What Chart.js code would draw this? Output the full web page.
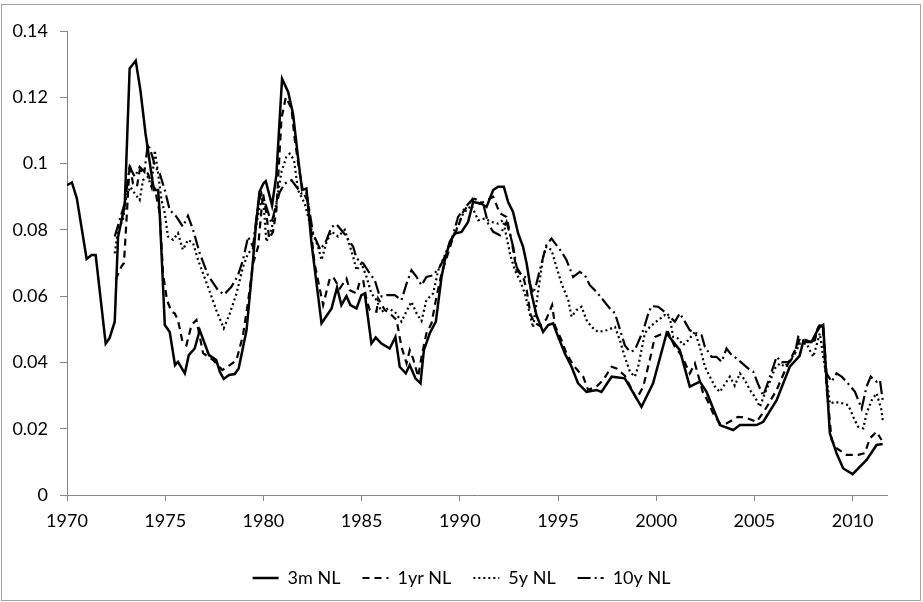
<!DOCTYPE html>
<html>
<head>
<meta charset="utf-8">
<script src="https://cdn.jsdelivr.net/npm/chart.js@4/dist/chart.umd.min.js"></script>
<style>
  html, body { margin: 0; padding: 0; background: #fff; }
  #wrap { width: 923px; height: 602px; }
</style>
</head>
<body>
<div id="wrap"><canvas id="ratesChart" width="923" height="602"></canvas></div>
<script>
// Dutch interest rates by maturity, 1970-2011 (decimal years)

const seriesNames = ["3m NL", "1yr NL", "5y NL", "10y NL"];

const years3m = [1970.00,1970.25,1970.50,1971.00,1971.25,1971.46,1971.97,1972.17,1972.43,1972.60,
  1972.94,1973.19,1973.50,1973.74,1974.00,1974.42,1974.64,1974.72,1974.98,1975.23,
  1975.50,1975.65,1976.00,1976.20,1976.50,1976.76,1977.23,1977.60,1977.78,1977.98,
  1978.25,1978.54,1978.74,1979.14,1979.40,1979.60,1979.80,1980.00,1980.12,1980.44,
  1980.66,1980.95,1981.26,1981.51,1981.76,1981.97,1982.19,1982.45,1982.96,1983.47,
  1983.75,1983.97,1984.23,1984.43,1984.74,1984.99,1985.16,1985.50,1985.72,1986.01,
  1986.43,1986.72,1986.94,1987.25,1987.45,1987.74,1988.00,1988.17,1988.47,1988.78,
  1989.07,1989.24,1989.49,1989.75,1990.09,1990.42,1990.68,1991.10,1991.36,1991.70,
  1991.95,1992.24,1992.46,1992.71,1992.97,1993.22,1993.40,1993.65,1993.90,1994.24,
  1994.50,1994.75,1995.01,1995.35,1995.69,1996.02,1996.45,1996.96,1997.21,1997.73,
  1998.40,1999.25,1999.84,2000.53,2001.20,2001.71,2002.22,2002.56,2003.24,2003.92,
  2004.26,2005.11,2005.45,2006.13,2006.80,2007.30,2007.48,2007.91,2008.17,2008.33,
  2008.50,2008.84,2009.18,2009.52,2010.00,2010.71,2011.22,2011.53];
const rate3m = [0.0935,0.0943,0.0895,0.0712,0.0724,0.0724,0.0457,0.0474,0.0523,0.0779,
  0.0874,0.1287,0.1310,0.1220,0.1090,0.0920,0.0920,0.0850,0.0513,0.0492,
  0.0392,0.0402,0.0367,0.0422,0.0442,0.0497,0.0422,0.0407,0.0372,0.0350,
  0.0362,0.0365,0.0382,0.0497,0.0660,0.0800,0.0915,0.0940,0.0947,0.0874,
  0.0965,0.1256,0.1216,0.1150,0.1020,0.0920,0.0925,0.0759,0.0518,0.0563,
  0.0626,0.0573,0.0600,0.0573,0.0563,0.0603,0.0608,0.0457,0.0475,0.0457,
  0.0442,0.0477,0.0387,0.0367,0.0392,0.0352,0.0337,0.0437,0.0488,0.0523,
  0.0658,0.0709,0.0764,0.0789,0.0794,0.0824,0.0884,0.0879,0.0869,0.0920,
  0.0930,0.0930,0.0884,0.0854,0.0789,0.0749,0.0699,0.0608,0.0543,0.0492,
  0.0513,0.0518,0.0477,0.0427,0.0387,0.0337,0.0311,0.0317,0.0311,0.0357,
  0.0352,0.0266,0.0337,0.0488,0.0437,0.0327,0.0342,0.0311,0.0211,0.0196,
  0.0211,0.0211,0.0221,0.0286,0.0387,0.0420,0.0462,0.0462,0.0492,0.0507,
  0.0513,0.0186,0.0126,0.0080,0.0063,0.0106,0.0151,0.0154];

const years1y = [1972.48,1972.77,1972.90,1973.05,1973.19,1973.36,1973.56,1973.70,1973.90,1974.12,
  1974.30,1974.47,1974.72,1974.89,1975.09,1975.32,1975.48,1975.65,1975.88,1976.08,
  1976.34,1976.59,1976.93,1977.44,1977.91,1978.29,1978.63,1978.96,1979.22,1979.47,
  1979.73,1979.98,1980.15,1980.29,1980.49,1980.66,1980.92,1981.14,1981.43,1981.60,
  1981.85,1982.02,1982.27,1982.60,1983.04,1983.38,1983.55,1983.89,1984.23,1984.40,
  1984.74,1984.90,1985.08,1985.25,1985.42,1985.76,1985.84,1986.18,1986.52,1986.78,
  1987.03,1987.29,1987.45,1987.62,1987.88,1988.05,1988.30,1988.56,1988.78,1989.07,
  1989.40,1989.66,1989.91,1990.17,1990.42,1990.65,1991.02,1991.36,1991.70,1992.04,
  1992.38,1992.63,1992.89,1993.22,1993.40,1993.60,1993.80,1994.07,1994.40,1994.70,
  1994.85,1995.18,1995.43,1995.80,1996.28,1996.53,1996.96,1997.30,1997.73,1997.98,
  1998.40,1999.00,1999.34,1999.67,1999.93,2000.35,2000.60,2000.95,2001.30,2001.71,
  2001.97,2002.39,2002.56,2002.90,2003.24,2003.58,2004.17,2004.51,2005.11,2005.53,
  2006.13,2006.64,2007.15,2007.32,2007.66,2008.00,2008.25,2008.47,2008.67,2008.93,
  2009.18,2009.69,2010.28,2010.62,2010.88,2011.22,2011.47];
const rate1y = [0.0650,0.0689,0.0700,0.0850,0.1000,0.0940,0.0930,0.0980,0.0975,0.0970,
  0.0940,0.0925,0.0850,0.0668,0.0588,0.0553,0.0548,0.0528,0.0462,0.0452,
  0.0513,0.0528,0.0428,0.0407,0.0377,0.0392,0.0407,0.0482,0.0583,0.0699,
  0.0749,0.0910,0.0850,0.0774,0.0794,0.0859,0.1136,0.1200,0.1166,0.1070,
  0.0970,0.0914,0.0884,0.0700,0.0573,0.0653,0.0658,0.0623,0.0653,0.0618,
  0.0608,0.0643,0.0648,0.0588,0.0558,0.0553,0.0593,0.0558,0.0543,0.0528,
  0.0447,0.0397,0.0437,0.0412,0.0357,0.0417,0.0488,0.0518,0.0588,0.0668,
  0.0729,0.0779,0.0809,0.0854,0.0874,0.0894,0.0879,0.0889,0.0900,0.0850,
  0.0839,0.0769,0.0678,0.0660,0.0620,0.0545,0.0520,0.0510,0.0530,0.0573,
  0.0510,0.0467,0.0427,0.0390,0.0357,0.0317,0.0327,0.0347,0.0387,0.0382,
  0.0360,0.0290,0.0327,0.0407,0.0477,0.0488,0.0492,0.0447,0.0420,0.0367,
  0.0397,0.0307,0.0291,0.0246,0.0216,0.0216,0.0236,0.0234,0.0221,0.0256,
  0.0317,0.0387,0.0447,0.0472,0.0467,0.0457,0.0507,0.0513,0.0327,0.0166,
  0.0141,0.0121,0.0121,0.0126,0.0171,0.0191,0.0166];

const years5y = [1972.43,1972.60,1972.85,1973.02,1973.23,1973.45,1973.70,1973.87,1974.12,1974.30,
  1974.47,1974.64,1974.81,1974.98,1975.14,1975.40,1975.65,1975.90,1976.16,1976.42,
  1976.67,1977.18,1977.60,1977.98,1978.29,1978.63,1978.96,1979.22,1979.47,1979.56,
  1979.81,1979.98,1980.15,1980.41,1980.66,1980.92,1981.17,1981.34,1981.56,1981.76,
  1982.10,1982.45,1982.78,1982.96,1983.21,1983.47,1983.80,1984.14,1984.31,1984.57,
  1984.74,1984.99,1985.25,1985.50,1985.76,1986.01,1986.35,1986.69,1987.03,1987.29,
  1987.54,1987.80,1988.05,1988.30,1988.64,1988.90,1989.25,1989.60,1989.90,1990.17,
  1990.60,1990.93,1991.27,1991.61,1991.95,1992.20,1992.38,1992.55,1992.80,1993.06,
  1993.31,1993.56,1993.73,1993.90,1994.07,1994.24,1994.41,1994.67,1994.92,1995.18,
  1995.52,1995.69,1995.94,1996.20,1996.45,1996.71,1997.04,1997.47,1997.90,1998.15,
  1998.40,1998.66,1998.91,1999.08,1999.25,1999.42,1999.67,2000.10,2000.44,2000.70,
  2000.86,2001.12,2001.37,2001.63,2001.97,2002.22,2002.48,2002.73,2002.99,2003.24,
  2003.50,2003.75,2004.00,2004.26,2004.51,2004.77,2005.02,2005.28,2005.53,2005.79,
  2006.04,2006.30,2006.55,2006.81,2007.06,2007.32,2007.66,2007.82,2008.00,2008.33,
  2008.50,2008.67,2008.84,2009.10,2009.52,2009.78,2010.03,2010.28,2010.54,2010.71,
  2010.97,2011.22,2011.47,2011.53];
const rate5y = [0.0729,0.0800,0.0830,0.0900,0.0930,0.0910,0.0890,0.0950,0.0960,0.0930,
  0.1040,0.0970,0.0890,0.0850,0.0780,0.0770,0.0790,0.0740,0.0770,0.0760,
  0.0710,0.0628,0.0558,0.0503,0.0548,0.0608,0.0688,0.0729,0.0744,0.0790,
  0.0870,0.0900,0.0764,0.0800,0.0880,0.0975,0.1020,0.1030,0.1010,0.0920,
  0.0880,0.0800,0.0749,0.0709,0.0762,0.0795,0.0780,0.0800,0.0769,0.0719,
  0.0678,0.0699,0.0658,0.0608,0.0588,0.0553,0.0563,0.0553,0.0523,0.0555,
  0.0583,0.0548,0.0525,0.0588,0.0608,0.0678,0.0725,0.0775,0.0810,0.0850,
  0.0874,0.0829,0.0834,0.0824,0.0819,0.0829,0.0779,0.0729,0.0678,0.0648,
  0.0608,0.0548,0.0505,0.0578,0.0648,0.0719,0.0749,0.0739,0.0688,0.0638,
  0.0588,0.0538,0.0558,0.0568,0.0528,0.0507,0.0492,0.0497,0.0507,0.0467,
  0.0417,0.0372,0.0357,0.0387,0.0437,0.0488,0.0507,0.0528,0.0543,0.0533,
  0.0477,0.0472,0.0452,0.0467,0.0492,0.0447,0.0387,0.0357,0.0327,0.0311,
  0.0335,0.0357,0.0330,0.0367,0.0347,0.0317,0.0296,0.0266,0.0307,0.0342,
  0.0382,0.0397,0.0387,0.0407,0.0427,0.0457,0.0457,0.0437,0.0417,0.0488,
  0.0417,0.0357,0.0276,0.0281,0.0276,0.0271,0.0236,0.0206,0.0201,0.0246,
  0.0286,0.0307,0.0256,0.0226];

const years10y = [1972.43,1972.68,1972.94,1973.19,1973.45,1973.70,1973.94,1974.12,1974.30,1974.50,
  1974.72,1974.98,1975.23,1975.57,1975.90,1976.16,1976.42,1976.76,1977.18,1977.69,
  1978.00,1978.37,1978.70,1978.96,1979.22,1979.47,1979.73,1979.90,1980.15,1980.41,
  1980.58,1980.83,1981.09,1981.43,1981.68,1981.93,1982.19,1982.53,1982.90,1983.21,
  1983.47,1983.72,1984.10,1984.57,1984.74,1985.08,1985.42,1985.67,1985.93,1986.27,
  1986.69,1987.03,1987.29,1987.54,1987.80,1988.05,1988.30,1988.64,1988.98,1989.32,
  1989.58,1989.91,1990.17,1990.51,1990.76,1991.19,1991.44,1991.70,1992.04,1992.38,
  1992.72,1992.89,1993.14,1993.48,1993.73,1993.90,1994.16,1994.41,1994.67,1994.92,
  1995.18,1995.43,1995.77,1996.11,1996.37,1996.62,1996.96,1997.30,1997.64,1997.90,
  1998.40,1998.66,1998.91,1999.34,1999.60,1999.76,2000.10,2000.53,2000.95,2001.20,
  2001.46,2001.71,2002.05,2002.31,2002.48,2002.82,2003.07,2003.33,2003.58,2003.84,
  2004.09,2004.77,2004.94,2005.19,2005.45,2005.79,2006.13,2006.38,2006.81,2007.06,
  2007.23,2007.49,2007.83,2008.08,2008.25,2008.50,2008.67,2008.93,2009.18,2009.44,
  2009.69,2010.12,2010.46,2010.71,2010.92,2011.22,2011.39,2011.53];
const rate10y = [0.0780,0.0830,0.0880,0.0990,0.0960,0.0990,0.0975,0.1060,0.1030,0.0990,
  0.0970,0.0920,0.0860,0.0840,0.0810,0.0842,0.0800,0.0729,0.0663,0.0618,
  0.0605,0.0628,0.0662,0.0709,0.0779,0.0749,0.0880,0.0910,0.0870,0.0820,
  0.0860,0.0914,0.0940,0.0950,0.0930,0.0910,0.0914,0.0789,0.0740,0.0769,
  0.0809,0.0817,0.0790,0.0749,0.0714,0.0699,0.0668,0.0648,0.0598,0.0603,
  0.0603,0.0588,0.0638,0.0678,0.0658,0.0633,0.0658,0.0663,0.0688,0.0729,
  0.0769,0.0839,0.0859,0.0884,0.0894,0.0879,0.0819,0.0794,0.0784,0.0824,
  0.0749,0.0688,0.0663,0.0653,0.0608,0.0638,0.0699,0.0754,0.0774,0.0754,
  0.0734,0.0709,0.0658,0.0673,0.0663,0.0633,0.0613,0.0588,0.0563,0.0548,
  0.0452,0.0432,0.0437,0.0497,0.0548,0.0570,0.0568,0.0548,0.0523,0.0548,
  0.0523,0.0497,0.0488,0.0482,0.0447,0.0417,0.0417,0.0402,0.0442,0.0422,
  0.0412,0.0377,0.0372,0.0334,0.0300,0.0357,0.0417,0.0400,0.0402,0.0427,
  0.0477,0.0467,0.0462,0.0467,0.0513,0.0507,0.0367,0.0342,0.0367,0.0357,
  0.0342,0.0311,0.0261,0.0327,0.0357,0.0342,0.0347,0.0286];

const yTicks = [0, 0.02, 0.04, 0.06, 0.08, 0.1, 0.12, 0.14];

function points(xs, ys) {
  return xs.map((x, i) => ({ x: x, y: ys[i] }));
}

const axisGrey = "#868686";
const labelFont = { family: "Lato, 'Open Sans', sans-serif", size: 18 };

// outer frame around the whole figure
const framePlugin = {
  id: "frame",
  afterDraw(chart) {
    const c = chart.ctx;
    c.save();
    c.strokeStyle = "#a3a3a3";
    c.lineWidth = 1;
    c.strokeRect(1.5, 4.5, 919, 596);
    c.restore();
  }
};

// let the legend centre on the full canvas width, not just the plot width
const legendSpan = {
  id: "legendSpan",
  afterLayout(chart) {
    if (!chart.legend) return;
    chart.legend.left = 0;
    chart.legend.right = chart.width;
    chart.legend.width = chart.width;
  }
};

function lineSet(label, xs, ys, dash, width) {
  return {
    label: label,
    data: points(xs, ys),
    borderColor: "#000",
    backgroundColor: "#000",
    borderWidth: width,
    borderDash: dash,
    pointRadius: 0,
    tension: 0,
    fill: false
  };
}

const ctx = document.getElementById("ratesChart").getContext("2d");
const ratesChart = new Chart(ctx, {
  type: "line",
  data: {
    datasets: [
      lineSet(seriesNames[0], years3m, rate3m, [], 2.5),
      lineSet(seriesNames[1], years1y, rate1y, [7, 5], 2.2),
      lineSet(seriesNames[2], years5y, rate5y, [2, 3], 2.2),
      lineSet(seriesNames[3], years10y, rate10y, [13, 4, 2, 4], 2.2)
    ]
  },
  options: {
    responsive: false,
    animation: false,
    layout: { padding: { left: 7, top: 31, right: 36, bottom: 5 } },
    scales: {
      x: {
        type: "linear",
        min: 1970,
        max: 2011.75,
        afterFit: (s) => { s.height = 52; },
        ticks: {
          stepSize: 5,
          includeBounds: false,
          autoSkip: false,
          maxRotation: 0,
          padding: 9,
          color: "#000",
          font: labelFont,
          callback: (v) => String(v)
        },
        grid: { drawOnChartArea: false, tickLength: 6, color: axisGrey },
        border: { color: axisGrey, width: 1 }
      },
      y: {
        min: 0,
        max: 0.14,
        afterFit: (s) => { s.width = 60; },
        afterBuildTicks: (s) => { s.ticks = yTicks.map((v) => ({ value: v })); },
        ticks: {
          padding: 12,
          color: "#000",
          font: labelFont,
          callback: (v) => String(parseFloat(Number(v).toFixed(2)))
        },
        grid: { drawOnChartArea: false, tickLength: 7, color: axisGrey },
        border: { color: axisGrey, width: 1 }
      }
    },
    plugins: {
      legend: {
        position: "bottom",
        labels: {
          usePointStyle: true,
          pointStyle: "line",
          pointStyleWidth: 26,
          padding: 22,
          color: "#000",
          font: labelFont,
          // point styles carry no dash, so take it from the line itself
          generateLabels(chart) {
            const items = Chart.defaults.plugins.legend.labels.generateLabels(chart);
            items.forEach((item) => {
              const ds = chart.data.datasets[item.datasetIndex];
              item.lineDash = ds.borderDash;
              item.lineWidth = ds.borderWidth;
              item.strokeStyle = "#000";
            });
            return items;
          }
        }
      },
      tooltip: { enabled: false }
    }
  },
  plugins: [legendSpan, framePlugin]
});
</script>
</body>
</html>
